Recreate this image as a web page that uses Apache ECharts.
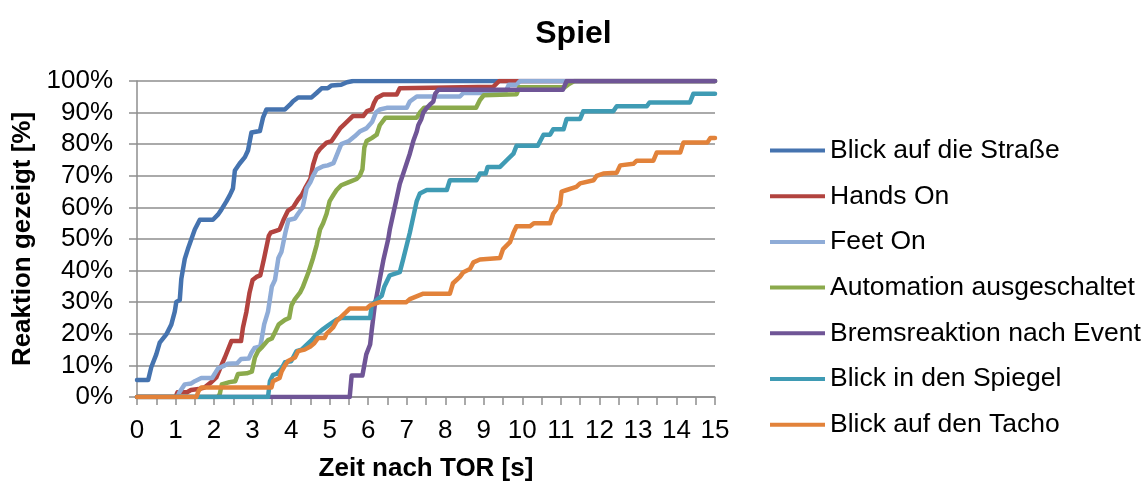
<!DOCTYPE html>
<html>
<head>
<meta charset="utf-8">
<script src="https://cdn.jsdelivr.net/npm/echarts@6/dist/echarts.min.js"></script>
<style>
  html, body { margin: 0; padding: 0; background: #ffffff; }
  #chart { width: 1147px; height: 487px; }
</style>
</head>
<body>
<div id="chart"></div>
<script>
// Cumulative share of drivers who showed each reaction, by time after the take-over request.
// Each series: [seconds after TOR, percent reached]
const seriesNames = [
  'Blick auf die Straße',
  'Hands On',
  'Feet On',
  'Automation ausgeschaltet',
  'Bremsreaktion nach Event',
  'Blick in den Spiegel',
  'Blick auf den Tacho'
];

const blickStrasse = [
  [0,5.4],[0.29,5.4],[0.37,9.4],[0.5,13.5],[0.59,17.2],[0.76,19.8],[0.89,22.9],[0.98,27.0],
  [1.02,30.1],[1.11,30.7],[1.15,37.4],[1.24,43.7],[1.32,46.8],[1.41,49.9],[1.5,53.0],[1.63,56.1],
  [1.97,56.1],[2.1,57.7],[2.19,59.3],[2.32,61.9],[2.41,63.9],[2.49,66.0],[2.54,71.7],[2.66,73.8],
  [2.8,75.9],[2.88,78.0],[2.97,83.7],[3.19,84.2],[3.27,88.4],[3.36,91.0],[3.84,91.0],[3.97,92.5],
  [4.05,93.6],[4.18,94.8],[4.53,94.8],[4.66,96.2],[4.79,97.7],[4.95,97.7],[5.05,98.6],[5.3,98.8],
  [5.45,99.6],[5.61,100],[15,100]
];

const handsOn = [
  [0,0],[1.0,0],[1.05,1.5],[1.3,1.5],[1.4,2.2],[1.6,2.5],[1.75,3.0],[1.93,4.7],[2.06,6.2],
  [2.19,10.0],[2.28,12.5],[2.45,17.7],[2.7,17.7],[2.75,22],[2.84,27],[2.92,33],[3.0,37],[3.1,38],
  [3.2,38.5],[3.3,44],[3.42,51],[3.47,52],[3.7,53],[3.8,56],[3.92,59],[4.05,60],[4.18,62.5],
  [4.28,64],[4.36,66],[4.5,69],[4.57,73.5],[4.66,77],[4.75,78.5],[4.92,80.5],[5.05,81],[5.27,85],
  [5.4,86.5],[5.6,88.9],[5.87,88.9],[5.97,90.5],[6.09,91],[6.15,93],[6.22,94.6],[6.39,95.7],
  [6.74,95.7],[6.82,97.7],[9.25,98.2],[9.4,100],[15,100]
];

const feetOn = [
  [0,0],[1.05,0],[1.1,1.5],[1.24,4],[1.41,4.3],[1.5,5],[1.67,6],[1.95,6],[2.1,9],[2.28,10],
  [2.35,10.5],[2.6,10.7],[2.7,12],[2.9,12.2],[2.97,14],[3.05,15.5],[3.2,16],[3.23,18],[3.3,23],
  [3.4,27],[3.5,35],[3.58,37],[3.67,44],[3.75,46],[3.85,52],[3.93,56],[4.1,56.5],[4.18,58],
  [4.3,60],[4.4,66],[4.5,68],[4.57,70],[4.66,72],[4.83,73],[4.95,73.3],[5.1,74],[5.2,77],
  [5.3,80],[5.5,81],[5.65,82.5],[5.78,84],[5.95,85],[6.1,87],[6.2,90],[6.3,91],[6.48,91.5],
  [7.0,91.5],[7.08,93.5],[7.26,95.1],[8.38,95.1],[8.47,96.2],[9.55,96.2],[9.65,98.8],[9.85,98.8],
  [9.94,100],[15,100]
];

const automationAus = [
  [0,0],[2.1,0],[2.15,1],[2.2,4],[2.4,4.7],[2.55,5],[2.62,7.3],[2.85,7.5],[2.98,8],[3.06,12.5],
  [3.14,14.5],[3.23,15.6],[3.4,18],[3.5,18.5],[3.6,21],[3.68,23],[3.84,24.4],[3.95,25],[4.01,29],
  [4.1,31],[4.23,33],[4.31,35],[4.45,39.5],[4.57,44],[4.66,48],[4.75,53],[4.83,55],[4.92,58],
  [5.0,62],[5.1,64],[5.18,65.5],[5.3,67],[5.5,68],[5.7,69],[5.78,70],[5.85,72],[5.9,79],[5.96,81],
  [6.1,82],[6.22,83],[6.3,86],[6.45,88.4],[7.26,88.4],[7.34,90],[7.45,91.5],[8.8,91.5],[8.9,94],
  [9.0,95.5],[9.85,95.8],[9.92,98],[11.1,98],[11.2,99],[11.35,100],[15,100]
];

const bremsreaktion = [
  [0,0],[5.52,0],[5.57,6.8],[5.85,6.8],[5.95,13.5],[6.05,16.6],[6.09,21],[6.17,29],[6.22,32],
  [6.35,40.5],[6.4,43.7],[6.52,50],[6.56,53],[6.65,58],[6.74,63],[6.82,67.5],[6.91,70.7],[7.08,77],
  [7.17,81],[7.26,84],[7.3,86],[7.38,88],[7.43,90],[7.52,91.5],[7.6,92.5],[7.69,93.5],[7.74,96],
  [7.82,97.2],[11.05,97.2],[11.15,100],[15,100]
];

const blickSpiegel = [
  [0,0],[3.4,0],[3.45,5],[3.53,7],[3.62,7.3],[3.75,9],[3.84,11],[4.0,11.3],[4.14,14.5],[4.27,15],
  [4.4,16.5],[4.53,18],[4.66,19.8],[4.83,21.5],[5.0,23],[5.18,24.5],[5.3,25],[6.05,25],[6.09,29],
  [6.22,30.7],[6.35,32],[6.42,35],[6.56,38.5],[6.82,39.5],[6.91,43.7],[7.08,52],[7.17,57],
  [7.26,62],[7.34,64.4],[7.52,65.5],[8.04,65.5],[8.12,68.6],[8.81,68.6],[8.9,70.7],[9.05,70.7],
  [9.1,72.8],[9.42,72.8],[9.6,75],[9.77,77],[9.85,79.5],[10.4,79.5],[10.55,83],[10.72,83],
  [10.8,84.7],[11.07,84.7],[11.15,88],[11.5,88],[11.58,90.4],[12.36,90.4],[12.45,92],[13.23,92],
  [13.3,93.2],[14.35,93.2],[14.44,96],[15,96]
];

const blickTacho = [
  [0,0],[1.54,0],[1.6,2],[1.67,3],[3.49,3],[3.53,5],[3.7,6],[3.75,8],[3.84,10],[3.92,11.4],
  [4.1,12.5],[4.18,14.5],[4.35,15],[4.5,16],[4.6,17],[4.7,18.7],[4.87,18.7],[4.92,20],[5.09,22],
  [5.18,24],[5.44,27],[5.52,28],[5.96,28],[6.05,29],[6.3,30],[6.99,30],[7.08,31],[7.43,32.7],
  [8.12,32.7],[8.2,36],[8.38,38],[8.47,39.5],[8.64,40.5],[8.73,42.6],[8.9,43.5],[9.42,44],
  [9.5,46.8],[9.68,49],[9.77,52],[9.85,54],[10.2,54],[10.3,55],[10.72,55],[10.8,58],[10.98,61],
  [11.02,65],[11.06,65],[11.15,65.5],[11.4,66.5],[11.5,67.6],[11.85,68.6],[11.93,70],[12.1,70.7],
  [12.45,71],[12.54,73.3],[12.88,73.8],[12.97,74.8],[13.4,74.8],[13.49,77.4],[14.1,77.4],
  [14.18,80.5],[14.8,80.5],[14.88,82],[15,82]
];

const seriesData = [blickStrasse, handsOn, feetOn, automationAus, bremsreaktion, blickSpiegel, blickTacho];
const seriesColors = ['#4573AF', '#B2433F', '#8FACD7', '#8BAA4C', '#6F5596', '#3F9BB4', '#E2823A'];

// Axis ranges
const xRange = [0, 15];
const yRange = [0, 100];

const FONT = '"Liberation Sans", Arial, sans-serif';
const GRID_GREY = '#8e8e8e';

const chart = echarts.init(document.getElementById('chart'), null, { renderer: 'canvas' });

chart.setOption({
  animation: false,
  backgroundColor: '#ffffff',
  title: {
    text: 'Spiel',
    left: 'center',
    top: 18,
    padding: 0,
    textStyle: { fontFamily: FONT, fontSize: 32, fontWeight: 'bold', color: '#000' }
  },
  legend: {
    orient: 'vertical',
    left: 770,
    top: 135.5,
    padding: 0,
    itemWidth: 55,
    itemHeight: 4,
    itemGap: 15.7,
    icon: 'rect',
    data: seriesNames,
    textStyle: { fontFamily: FONT, fontSize: 26.5, color: '#000', lineHeight: 30 }
  },
  grid: { left: 137, top: 81, width: 578, height: 321, containLabel: false },
  xAxis: {
    type: 'value',
    min: xRange[0],
    max: xRange[1],
    interval: 1,
    name: 'Zeit nach TOR [s]',
    nameLocation: 'middle',
    nameGap: 59,
    nameTextStyle: { fontFamily: FONT, fontSize: 26, fontWeight: 'bold', color: '#000' },
    axisLine: { show: true, lineStyle: { color: GRID_GREY, width: 1.5 } },
    axisTick: { show: true, length: 8, lineStyle: { color: GRID_GREY, width: 1.5 } },
    minorTick: { show: true, splitNumber: 2, length: 8, lineStyle: { color: GRID_GREY, width: 1.5 } },
    splitLine: { show: false },
    axisLabel: { fontFamily: FONT, fontSize: 26, color: '#000', margin: 21 }
  },
  yAxis: {
    type: 'value',
    min: yRange[0],
    max: yRange[1],
    interval: 10,
    name: 'Reaktion gezeigt [%]',
    nameLocation: 'middle',
    nameGap: 91,
    nameTextStyle: { fontFamily: FONT, fontSize: 26, fontWeight: 'bold', color: '#000' },
    axisLine: { show: true, lineStyle: { color: GRID_GREY, width: 1.5 } },
    axisTick: { show: true, length: 8, lineStyle: { color: GRID_GREY, width: 1.5 } },
    splitLine: { show: true, lineStyle: { color: GRID_GREY, width: 1.5 } },
    axisLabel: { fontFamily: FONT, fontSize: 26, color: '#000', margin: 24, formatter: '{value}%' }
  },
  series: seriesNames.map((name, i) => ({
    name,
    type: 'line',
    data: seriesData[i],
    showSymbol: false,
    symbol: 'none',
    color: seriesColors[i],
    lineStyle: { width: 4.5, color: seriesColors[i], cap: 'round', join: 'round' },
    emphasis: { disabled: true }
  }))
});
</script>
</body>
</html>
